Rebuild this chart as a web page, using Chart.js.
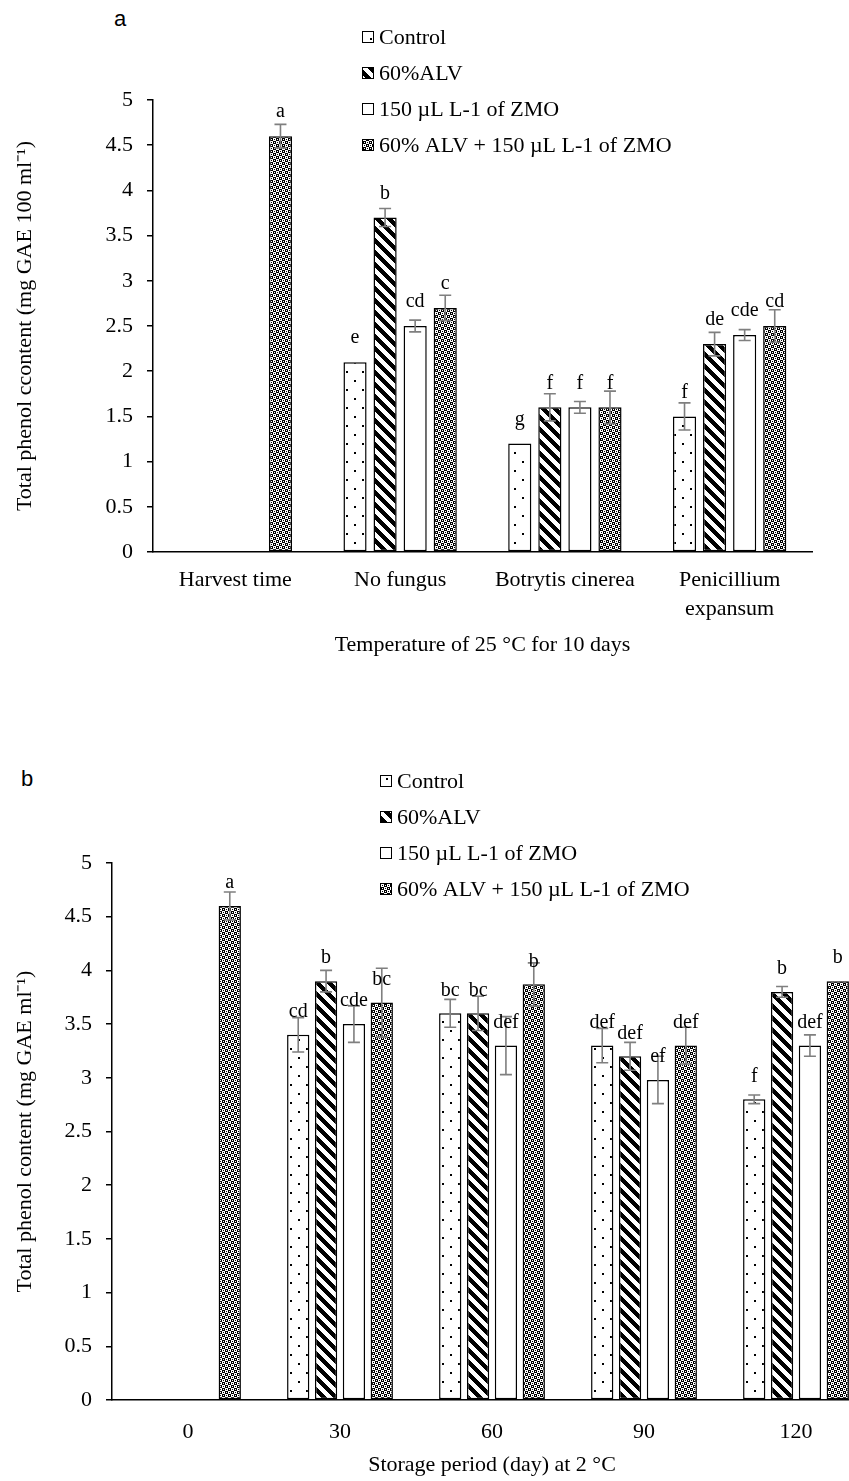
<!DOCTYPE html>
<html>
<head>
<meta charset="utf-8">
<script src="https://cdn.jsdelivr.net/npm/chart.js@4.4.1/dist/chart.umd.min.js"></script>
<style>
  html, body { margin: 0; padding: 0; background: #fff; width: 849px; height: 1481px; overflow: hidden; position: relative; }
  .panel { position: absolute; font-family: "Liberation Sans", Arial, sans-serif; font-size: 22px; color: #000; }
  canvas { position: absolute; left: 0; }
</style>
</head>
<body>
<div class="panel" style="left:114px;top:6px">a</div>
<div class="panel" style="left:21px;top:766px">b</div>
<canvas id="chartA" width="849" height="680" style="top:0"></canvas>
<canvas id="chartB" width="890" height="760" style="top:740px"></canvas>
<script>
const seriesNames = ["Control", "60%ALV", "150 µL L-1 of ZMO", "60% ALV + 150 µL L-1 of ZMO"];

// panel a - 25 °C for 10 days
const catsA = ["Harvest time", "No fungus", "Botrytis cinerea", ["Penicillium", "expansum"]];
const controlA = [0, 2.1, 1.2, 1.5];
const alvA = [0, 3.7, 1.6, 2.3];
const zmoA = [0, 2.5, 1.6, 2.4];
const comboA = [4.6, 2.7, 1.6, 2.5];
const errControlA = [0, 0, 0, 0.15];
const errAlvA = [0, 0.1, 0.15, 0.13];
const errZmoA = [0, 0.065, 0.065, 0.06];
const errComboA = [0.13, 0.14, 0.18, 0.18];
const letControlA = ["", "e", "g", "f"];
const letAlvA = ["", "b", "f", "de"];
const letZmoA = ["", "cd", "f", "cde"];
const letComboA = ["a", "c", "f", "cd"];

// panel b - storage at 2 °C
const catsB = ["0", "30", "60", "90", "120"];
const controlB = [0, 3.4, 3.6, 3.3, 2.8];
const alvB = [0, 3.9, 3.6, 3.2, 3.8];
const zmoB = [0, 3.5, 3.3, 2.98, 3.3];
const comboB = [4.6, 3.7, 3.87, 3.3, 3.9];
const errControlB = [0, 0.16, 0.13, 0.16, 0.04];
const errAlvB = [0, 0.1, 0.16, 0.13, 0.05];
const errZmoB = [0, 0.17, 0.27, 0.22, 0.1];
const errComboB = [0.13, 0.32, 0.2, 0.17, 0];
const letControlB = ["", "cd", "bc", "def", "f"];
const letAlvB = ["", "b", "bc", "def", "b"];
const letZmoB = ["", "cde", "def", "ef", "def"];
const letComboB = ["a", "bc", "b", "def", "b"];

const yTicksMax = 5;
const yStep = 0.5;

const SERIF = '"Liberation Serif", "Times New Roman", serif';

function tile(w, h, draw) {
  const c = document.createElement("canvas");
  c.width = w; c.height = h;
  const g = c.getContext("2d");
  g.fillStyle = "#fff"; g.fillRect(0, 0, w, h);
  g.fillStyle = "#000";
  draw(g);
  return c;
}
const dotTile = tile(16, 18, g => { g.fillRect(2, 2, 2, 2); g.fillRect(10, 11, 2, 2); });
const stripeTile = tile(12, 12, g => {
  for (let r = 0; r < 12; r++) for (let k = 0; k < 6; k++) g.fillRect((r + k) % 12, r, 1, 1);
});
const checkTile = tile(6, 6, g => {
  g.fillRect(0, 0, 3, 3); g.fillRect(3, 3, 3, 3);
  g.fillStyle = "#fff"; g.fillRect(1, 1, 1, 1); g.fillRect(4, 4, 1, 1);
  g.fillStyle = "#000"; g.fillRect(4, 1, 1, 1); g.fillRect(1, 4, 1, 1);
});

// error bars, letters and the legend
const marks = {
  id: "marks",
  afterDatasetsDraw(chart, args, opts) {
    const ctx = chart.ctx;
    const y = chart.scales.y;
    ctx.save();
    chart.data.datasets.forEach((ds, i) => {
      const meta = chart.getDatasetMeta(i);
      meta.data.forEach((bar, j) => {
        const v = ds.data[j], e = ds.errors[j];
        if (e > 0) {
          const t = y.getPixelForValue(v + e), b = y.getPixelForValue(v - e);
          ctx.strokeStyle = "#7f7f7f";
          ctx.lineWidth = 1.6;
          ctx.beginPath();
          ctx.moveTo(bar.x, t); ctx.lineTo(bar.x, b);
          ctx.moveTo(bar.x - 6, t); ctx.lineTo(bar.x + 6, t);
          ctx.moveTo(bar.x - 6, b); ctx.lineTo(bar.x + 6, b);
          ctx.stroke();
        }
        if (ds.letters[j]) {
          ctx.fillStyle = "#000";
          ctx.font = "20px " + SERIF;
          ctx.textAlign = "center";
          ctx.textBaseline = "middle";
          ctx.fillText(ds.letters[j], bar.x, y.getPixelForValue(v) - opts.gap);
        }
      });
    });
    ctx.restore();
  },
  afterDraw(chart, args, opts) {
    const ctx = chart.ctx;
    const lg = opts.legend;
    ctx.save();
    ctx.font = "22px " + SERIF;
    ctx.textAlign = "left";
    ctx.textBaseline = "middle";
    chart.data.datasets.forEach((ds, i) => {
      const cy = lg.y + i * lg.dy;
      ctx.fillStyle = ds.backgroundColor;
      ctx.fillRect(lg.x, cy - 6, 12, 12);
      ctx.strokeStyle = "#000";
      ctx.lineWidth = 1;
      ctx.strokeRect(lg.x + 0.5, cy - 5.5, 11, 11);
      ctx.fillStyle = "#000";
      ctx.fillText(ds.label, lg.x + 17, cy + 1);
    });
    ctx.restore();
  }
};

function makeChart(id, cats, values, errors, letters, o) {
  const canvas = document.getElementById(id);
  const ctx = canvas.getContext("2d");
  const fills = [dotTile, stripeTile, null, checkTile].map(t => t ? ctx.createPattern(t, "repeat") : "#fff");
  return new Chart(canvas, {
    type: "bar",
    data: {
      labels: cats,
      datasets: values.map((v, i) => ({
        label: seriesNames[i],
        data: v,
        errors: errors[i],
        letters: letters[i],
        backgroundColor: fills[i],
        borderColor: "#000",
        borderWidth: 1.5,
        borderSkipped: false,
        categoryPercentage: o.cat,
        barPercentage: o.bar,
      })),
    },
    options: {
      responsive: false,
      animation: false,
      layout: { padding: o.pad },
      plugins: {
        legend: { display: false },
        tooltip: { enabled: false },
        marks: { gap: o.gap, legend: o.legend },
      },
      scales: {
        x: {
          ticks: { color: "#000", font: { family: SERIF, size: 22, lineHeight: 1.3 }, padding: o.xPad, autoSkip: false, maxRotation: 0 },
          grid: { display: false, drawTicks: false },
          border: { display: true, color: "#000", width: 1.5 },
          title: { display: true, text: o.xTitle, color: "#000", font: { family: SERIF, size: 22 }, padding: { top: 0, bottom: 4 } },
          afterFit(s) { s.height = o.xHeight; },
        },
        y: {
          min: 0,
          max: yTicksMax,
          ticks: { stepSize: yStep, color: "#000", font: { family: SERIF, size: 22 }, padding: 14, callback: v => String(v) },
          grid: { display: true, drawOnChartArea: false, drawTicks: true, tickLength: 6, color: "#000", lineWidth: 1.5 },
          border: { display: true, color: "#000", width: 1.5 },
          title: { display: true, text: o.yTitle, color: "#000", font: { family: SERIF, size: 22 }, padding: { top: 4, bottom: 0 } },
          afterFit(s) { s.width = o.yWidth; },
        },
      },
    },
    plugins: [marks],
  });
}

makeChart("chartA", catsA,
  [controlA, alvA, zmoA, comboA],
  [errControlA, errAlvA, errZmoA, errComboA],
  [letControlA, letAlvA, letZmoA, letComboA],
  {
    pad: { left: 8, right: 37, top: 100, bottom: 18 },
    xHeight: 110, yWidth: 145, xPad: 14,
    cat: 0.73, bar: 0.77, gap: 24,
    xTitle: "Temperature of 25 °C for 10 days",
    yTitle: "Total phenol ccontent (mg GAE 100 ml⁻¹)",
    legend: { x: 362, y: 37, dy: 36 },
  });

makeChart("chartB", catsB,
  [controlB, alvB, zmoB, comboB],
  [errControlB, errAlvB, errZmoB, errComboB],
  [letControlB, letAlvB, letZmoB, letComboB],
  {
    pad: { left: 8, right: 18, top: 123, bottom: 18 },
    xHeight: 82, yWidth: 104, xPad: 18,
    cat: 0.733, bar: 0.8, gap: 23,
    xTitle: "Storage period (day) at 2 °C",
    yTitle: "Total phenol content (mg GAE ml⁻¹)",
    legend: { x: 380, y: 41, dy: 36 },
  });
</script>
</body>
</html>
